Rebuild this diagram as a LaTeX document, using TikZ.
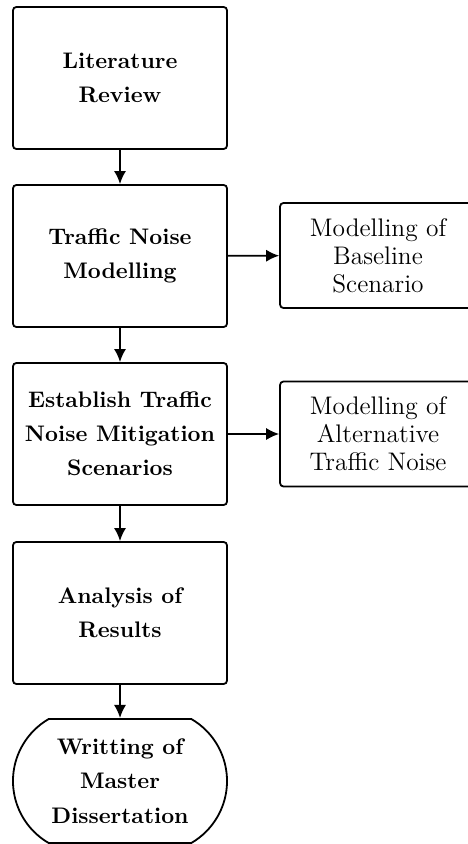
\documentclass[tikz,border=0pt]{standalone}
\usetikzlibrary{arrows.meta,shapes.misc}

\tikzset{
    stage/.style={draw,thick,rounded corners=1.5pt,minimum width=3.344cm,
        minimum height=2.219cm,align=center,
        font=\fontsize{10}{15.2}\selectfont\bfseries},
    side/.style={draw,thick,rounded corners=1.5pt,minimum width=3.06cm,
        minimum height=1.64cm,align=center,
        font=\fontsize{11.3}{12.4}\selectfont},
    finish/.style={draw,thick,rounded rectangle,rounded rectangle arc length=120,
        minimum width=3.344cm,minimum height=1.94cm,inner xsep=0pt,align=center,
        font=\fontsize{10}{15.2}\selectfont\bfseries},
    flow/.style={thick,-{Latex[length=5.8pt,width=5.4pt]}}
}

\begin{document}
\begin{tikzpicture}[x=0.015625cm,y=-0.015625cm]

    \useasboundingbox (0,0) rectangle (467,844);

    % main column
    \node [stage] (lit) at (120,78)  {Literature\\Review};
    \node [stage] (tnm) at (120,256) {Traffic Noise\\Modelling};
    \node [stage] (est) at (120,434) {Establish Traffic\\Noise Mitigation\\Scenarios};
    \node [stage] (ana) at (120,613) {Analysis of\\Results};
    \node [finish] (wri) at (120,781) {Writting of\\Master\\Dissertation};

    % side boxes
    \node [side] (base) at (378,255.5) {Modelling of\\Baseline\\Scenario};
    \node [side] (alt)  at (378,434)   {Modelling of\\Alternative\\Traffic Noise};

    % arrows
    \draw [flow] (lit) -- (tnm);
    \draw [flow] (tnm) -- (est);
    \draw [flow] (est) -- (ana);
    \draw [flow] (ana) -- (wri);
    \draw [flow] (tnm) -- (base);
    \draw [flow] (est) -- (alt);
    \end{tikzpicture}
\end{document}
